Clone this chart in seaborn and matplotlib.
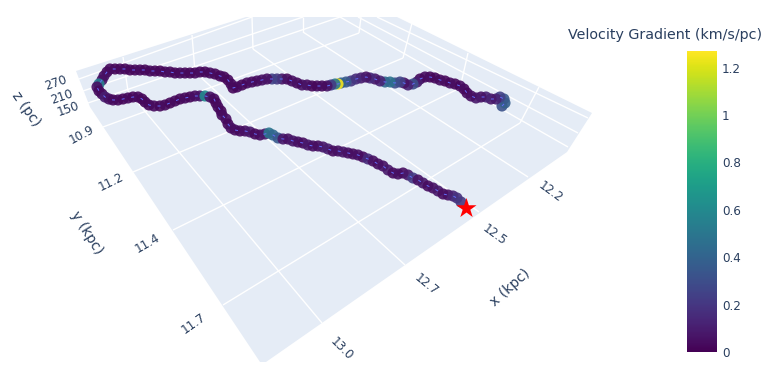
import matplotlib
matplotlib.use("Agg")
import matplotlib.pyplot as plt
import seaborn as sns
import pandas as pd
from matplotlib.cm import ScalarMappable
from matplotlib.colors import Normalize

# Ridge, in the projected plane of the 3D view
path_u = [502,505,504,500,496,491,486,481,476,471,
          467,464,460,455,450,445,440,435,430,425,
          420,417,413,408,404,400,395,390,385,380,
          375,370,366,361,356,351,346,341,338,335,
          331,327,322,317,312,307,302,297,292,287,
          282,277,272,267,262,257,252,247,242,237,
          233,231,228,224,220,215,210,205,200,195,
          190,185,180,175,170,165,160,155,150,145,
          140,135,130,125,120,115,110,107,104,102,
          99,97,99,102,105,109,113,118,123,128,
          133,138,142,145,149,154,160,165,170,175,
          180,185,190,195,200,205,210,214,216,218,
          221,222,226,228,231,235,240,245,250,255,
          260,265,269,273,278,283,288,293,298,303,
          308,313,318,323,328,333,338,343,348,353,
          358,363,368,373,378,383,388,393,398,403,
          408,413,418,423,428,433,438,443,448,453,
          457,461]
path_v = [106,103,99,97,99,99,97,97,98,96,
          93,89,86,84,83,81,80,78,77,77,
          79,82,84,85,83,82,83,82,82,81,
          79,78,77,78,79,81,82,83,84,84,
          85,86,86,86,86,85,85,83,81,79,
          79,79,79,79,80,81,82,83,85,87,
          88,84,80,77,76,74,73,72,72,73,
          73,73,73,73,72,72,71,71,71,70,
          70,70,70,69,69,69,69,72,76,80,
          84,87,91,94,97,99,100,100,99,98,
          97,97,99,102,105,106,106,105,103,101,
          99,98,97,96,96,96,97,99,103,107,
          111,115,119,124,128,130,131,131,132,134,
          135,134,133,135,138,139,139,141,142,143,
          145,146,146,147,149,151,151,152,153,154,
          155,157,159,161,164,166,170,173,174,173,
          175,178,180,183,186,188,191,194,195,196,
          198,202]
gradient = [.32,.38,.35,.25,.12,.08,.12,.06,.08,.05,
            .04,.02,.04,.02,.04,.02,.04,.03,.02,.04,
            .03,.1,.3,.12,.06,.25,.3,.48,.42,.12,
            .08,.15,.06,.1,.15,.2,.35,.4,1.25,.5,
            .22,.06,.03,.04,.02,.04,.06,.03,.05,.03,
            .06,.2,.25,.05,.06,.04,.03,.04,.02,.03,
            .02,.03,.03,.02,.03,.02,.03,.02,.02,.03,
            .02,.02,.03,.02,.02,.03,.02,.02,.03,.02,
            .02,.03,.02,.02,.03,.02,.03,.03,.05,.05,
            .55,.05,.03,.03,.1,.05,.03,.03,.02,.03,
            .02,.03,.02,.02,.02,.03,.02,.03,.02,.03,
            .02,.03,.02,.04,.06,.6,.06,.03,.02,.03,
            .02,.03,.04,.02,.05,.04,.03,.05,.08,.03,
            .04,.08,.5,.42,.35,.08,.05,.08,.05,.04,
            .08,.05,.04,.08,.1,.04,.05,.08,.05,.04,
            .05,.04,.15,.05,.04,.05,.08,.04,.05,.04,
            .08,.22,.05,.08,.04,.05,.08,.04,.05,.12,
            .18,.2]
star_u = [466]
star_v = [208]

# Plot walls and grid
scene_u = [76,246,397,592,567,266,260,90]
scene_v = [71,17,17,113,152,362,362,107]
floor_x_u = [[528,303],[479,253],[405,195],[322,128]]
floor_x_v = [[177,32],[212,49],[265,72],[323,91]]
floor_y_u = [[103,359],[133,403],[173,460],[223,520]]
floor_y_v = [[127,33],[172,58],[230,88],[305,123]]
wall_z_u = [[79,252],[83,303],[88,340],[377,588],[358,578],[340,568]]
wall_z_v = [[79,17],[91,17],[103,17],[17,118],[17,133],[17,147]]
wall_up_u = [[128,123],[195,192],[253,252],[303,303],[359,361],[403,412],[460,468],[520,539]]
wall_up_v = [[91,57],[72,35],[49,17],[32,17],[33,17],[58,23],[88,53],[123,87]]

x_ticks = ["12.2","12.5","12.7","13.0"]
y_ticks = ["10.9","11.2","11.4","11.7"]
z_ticks = ["270","210","150"]
bar_ticks = [0,0.2,0.4,0.6,0.8,1,1.2]
bar_labels = ["0","0.2","0.4","0.6","0.8","1","1.2"]
bar_max = 1.27

INK = "#2a3f5f"
sns.set_theme(style="white", rc={"font.family": "DejaVu Sans"})
fig = plt.figure(figsize=(7.77, 3.78), dpi=100, facecolor="white")
ax = fig.add_axes([0, 0, 1, 1])
ax.set_xlim(0, 777)
ax.set_ylim(378, 0)
ax.axis("off")

ax.fill(scene_u, scene_v, color="#E5ECF6", lw=0, zorder=1)
for us, vs in [(floor_x_u, floor_x_v), (floor_y_u, floor_y_v), (wall_z_u, wall_z_v), (wall_up_u, wall_up_v)]:
    for u, v in zip(us, vs):
        ax.plot(u, v, color="white", lw=1.0, zorder=2, solid_capstyle="butt")

df = pd.DataFrame({"u": path_u, "v": path_v, "g": gradient})
sns.scatterplot(data=df, x="u", y="v", hue="g", palette="viridis", hue_norm=(0, bar_max),
                s=64, alpha=0.9, linewidth=0, legend=False, ax=ax, zorder=3)
sns.lineplot(data=df, x="u", y="v", sort=False, estimator=None, color="#636efa", lw=0.7, ax=ax, zorder=4)
ax.lines[-1].set_dashes((3, 7))
sns.scatterplot(x=star_u, y=star_v, marker="*", color="red", s=230, linewidth=0, ax=ax, zorder=5)
ax.set_xlabel("")
ax.set_ylabel("")

def label(u, v, s, rot, size=8.64):
    ax.text(u, v, s, rotation=rot, rotation_mode="anchor", ha="center", va="center",
            color=INK, fontsize=size, zorder=6)

for s, u, v, r in zip(x_ticks, [550,494,426,342], [192,235,285,349], [-36,-36,-39,-45]):
    label(u, v, s, r)
for s, u, v, r in zip(y_ticks, [82,111,147,194], [135,182,243,323], [28,26,30,35]):
    label(u, v, s, r)
for s, u, v in zip(z_ticks, [56,62,68], [83,97,109]):
    label(u, v, s, 19)
label(510, 288, "x (kpc)", 42, 10.1)
label(87, 233, "y (kpc)", -58, 10.1)
label(26, 109, "z (pc)", -55, 10.1)

fig.text(665.5/777, 1 - 35/378, "Velocity Gradient (km/s/pc)", ha="center", va="center", color=INK, fontsize=10.3)

cax = fig.add_axes([687/777, 1 - 352/378, 30/777, 301/378])
cb = fig.colorbar(ScalarMappable(Normalize(0, bar_max), "viridis"), cax=cax)
cb.set_ticks(bar_ticks, labels=bar_labels)
cb.ax.tick_params(length=0, pad=3.5, labelsize=8.64, labelcolor=INK)
cb.outline.set_visible(False)

fig.savefig("out.png", dpi=100)
